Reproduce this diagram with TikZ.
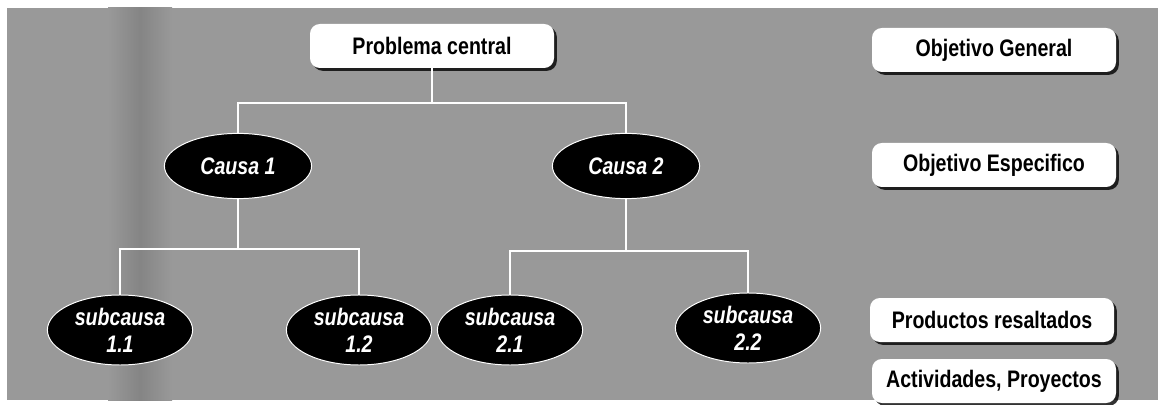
\documentclass[tikz,border=0pt]{standalone}
\usepackage{fontspec}
\setmainfont{Liberation Sans}[FakeStretch=0.82]
\usepackage{tikz}
\usetikzlibrary{positioning, shapes.geometric, shadows}
\tikzset{
box/.style={rectangle, rounded corners=7pt, fill=white, minimum width=6.1cm, minimum height=1.1cm, font=\fontsize{17}{20}\selectfont\bfseries, drop shadow={shadow xshift=2pt, shadow yshift=-2pt, opacity=.8, fill=black}}, % white boxes
cause/.style={ellipse, fill=black, draw=white, line width=0.7pt, minimum width=3.68cm, minimum height=1.63cm, inner sep=0pt, text=white, font=\fontsize{17}{19}\selectfont\bfseries\itshape, align=center}, % black ovals
subcause/.style={cause, minimum width=3.63cm, minimum height=1.75cm}, % smaller ovals
tree/.style={draw=white, line width=1.4pt}, % the white connecting lines
}

\begin{document}
\begin{tikzpicture}
                \useasboundingbox (0,0) rectangle (29.1,10.1);
                \fill[white] (0,0) rectangle (29.1,10.1);
                \fill[black!40] (0.175,0.1) rectangle (28.95,9.9);
                \shade[left color=black!40, right color=black!40, middle color=black!48] (2.7,0.1) rectangle (4.3,9.9);

                \node[box] (pc) at (10.8,8.95) {Problema central};

                \node[cause] (c1) at (5.95,5.95) {Causa 1};
                \node[cause] (c2) at (15.65,5.95) {Causa 2};

                \node[subcause] (s1_1) at (3.0,1.85) {subcausa\\1.1};
                \node[subcause] (s1_2) at (8.975,1.85) {subcausa\\1.2};
                \node[subcause] (s2_1) at (12.75,1.85) {subcausa\\2.1};
                \node[subcause] (s2_2) at (18.7,1.9) {subcausa\\2.2};

                \node[box] (og) at (24.85,8.85) {Objetivo General};
                \node[box] (oe) at (24.85,5.975) {Objetivo Especifico};
                \node[box] (pr) at (24.8,2.1) {Productos resaltados};
                \node[box] (ap) at (24.85,0.575) {Actividades, Proyectos};

                \draw[tree] (pc.south) -- ++(0,-0.87) -| (c1.north);
                \draw[tree] (pc.south) -- ++(0,-0.87) -| (c2.north);
                \draw[tree] (c1.south) -- ++(0,-1.25) -| (s1_1.north);
                \draw[tree] (c1.south) -- ++(0,-1.25) -| (s1_2.north);
                \draw[tree] (c2.south) -- ++(0,-1.3) -| (s2_1.north);
                \draw[tree] (c2.south) -- ++(0,-1.3) -| (s2_2.north);
                \end{tikzpicture}
\end{document}
